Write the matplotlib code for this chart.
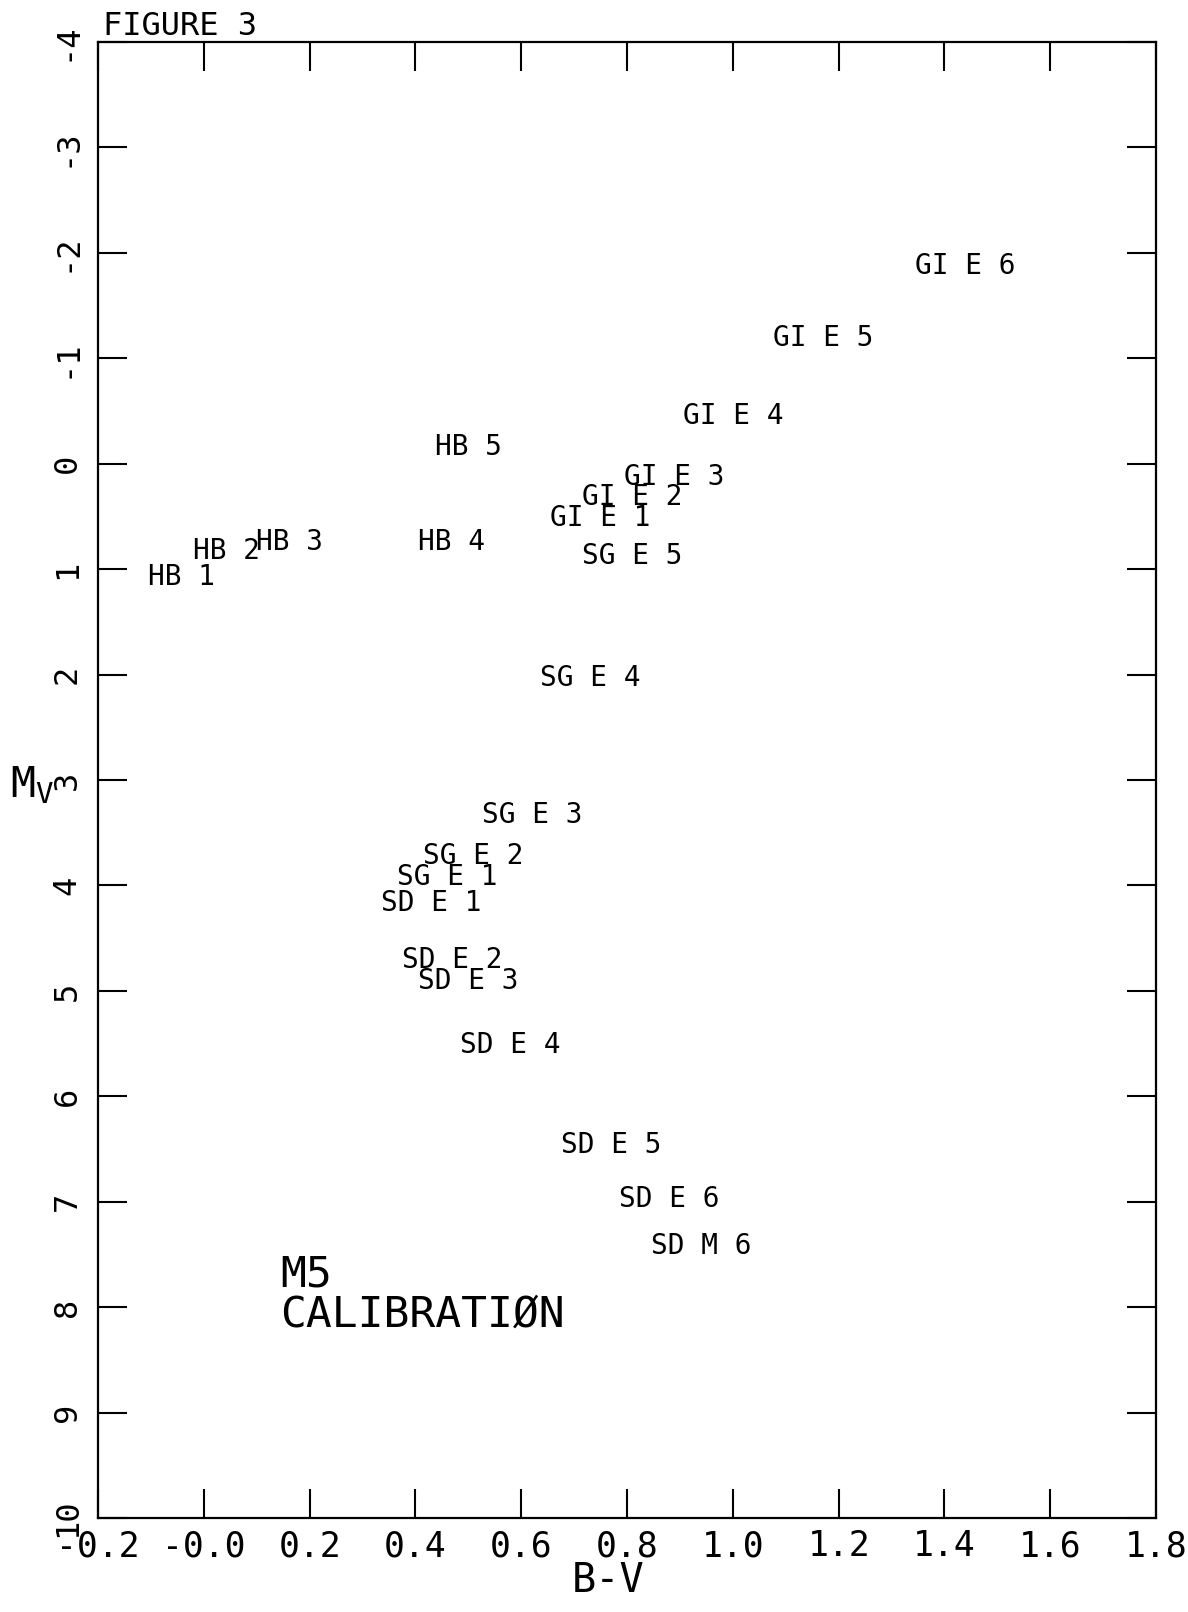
import matplotlib
matplotlib.use('Agg')
import matplotlib.pyplot as plt

# 图中各星组标签位置 (B-V, M_V)
labels = ['HB 1', 'HB 2', 'HB 3', 'HB 4', 'HB 5',
          'GI E 1', 'GI E 2', 'GI E 3', 'GI E 4', 'GI E 5', 'GI E 6',
          'SG E 1', 'SG E 2', 'SG E 3', 'SG E 4', 'SG E 5',
          'SD E 1', 'SD E 2', 'SD E 3', 'SD E 4', 'SD E 5', 'SD E 6', 'SD M 6']
bv = [-0.105, -0.020, 0.098, 0.405, 0.437,
      0.655, 0.715, 0.795, 0.905, 1.075, 1.345,
      0.365, 0.415, 0.525, 0.635, 0.715,
      0.335, 0.375, 0.405, 0.485, 0.675, 0.785, 0.845]
mv = [1.15, 0.90, 0.82, 0.82, -0.08,
      0.59, 0.39, 0.20, -0.38, -1.12, -1.80,
      4.00, 3.80, 3.41, 2.11, 0.95,
      4.24, 4.78, 4.98, 5.59, 6.54, 7.05, 7.50]

x_ticks = [-0.2, 0.0, 0.2, 0.4, 0.6, 0.8, 1.0, 1.2, 1.4, 1.6, 1.8]
x_ticklabels = ['-0.2', '-0.0', '0.2', '0.4', '0.6', '0.8', '1.0', '1.2', '1.4', '1.6', '1.8']
y_ticks = list(range(-4, 11))
y_ticklabels = [str(v) for v in y_ticks]

FONT = 'DejaVu Sans Mono'
plt.rcParams['font.family'] = FONT

fig = plt.figure(figsize=(11.88, 16.12), dpi=100)
ax = fig.add_axes([0.0825, 0.0583, 0.8906, 0.9156])

ax.set_xlim(-0.2, 1.8)
ax.set_ylim(10, -4)

for side in ax.spines.values():
    side.set_linewidth(1.6)
    side.set_color('black')

ax.set_xticks(x_ticks)
ax.set_xticklabels(x_ticklabels, fontsize=25)
ax.set_yticks(y_ticks)
ax.set_yticklabels(y_ticklabels, fontsize=23, rotation=90, va='center')
ax.tick_params(direction='in', length=21, width=1.5, top=True, right=True,
               labeltop=False, labelright=False)
ax.tick_params(axis='x', pad=8)
ax.tick_params(axis='y', pad=11)

# 星组标签
for name, x, y in zip(labels, bv, mv):
    ax.text(x, y, name, fontsize=20, ha='left', va='baseline', color='black')

ax.text(0.145, 7.80, 'M5', fontsize=31, ha='left', va='baseline')
ax.text(0.145, 8.18, 'CALIBRATIØN', fontsize=31, ha='left', va='baseline')

ax.set_xlabel('B-V', fontsize=29)
ax.xaxis.set_label_coords(0.482, -0.029)
fig.text(0.008, 0.513, r'$\mathregular{M_V}$', fontsize=30, ha='left', va='center')
fig.text(0.087, 0.978, 'FIGURE 3', fontsize=23, ha='left', va='baseline')

fig.savefig('out.png', dpi=100, facecolor='white')
